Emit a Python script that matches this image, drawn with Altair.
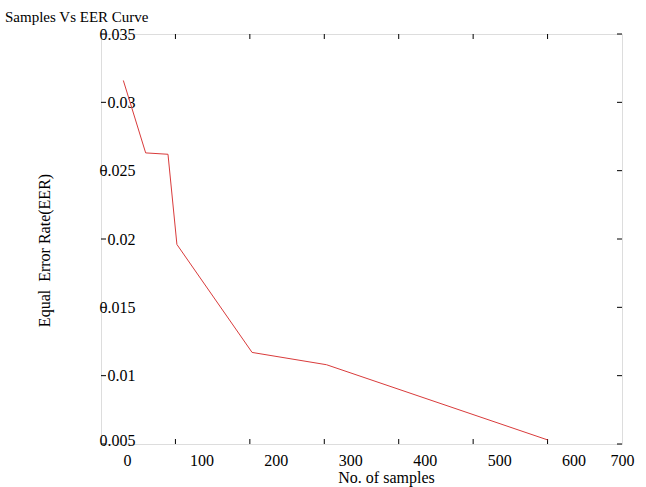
import altair as alt
import pandas as pd

samples = [30, 60, 90, 102, 203, 303, 600]
eer = [0.0316, 0.0263, 0.0262, 0.0196, 0.0117, 0.0108, 0.0053]

x_tick_values = [100, 200, 300, 400, 500, 600]
x_label_values = [0, 100, 200, 300, 400, 500, 600, 700]
y_tick_values = [0.005, 0.01, 0.015, 0.02, 0.025, 0.03, 0.035]

FONT = "Liberation Serif"
W, H = 521, 410

df = pd.DataFrame({"samples": samples, "eer": eer})
xt = pd.DataFrame({"v": x_tick_values})
yt = pd.DataFrame({"v": y_tick_values})

xscale = alt.Scale(domain=[0, 700], nice=False, zero=False)
yscale = alt.Scale(domain=[0.005, 0.035], nice=False, zero=False)

line = alt.Chart(df).mark_line(color="#d93b3b", strokeWidth=1).encode(
    x=alt.X("samples:Q", scale=xscale,
            axis=alt.Axis(values=x_label_values, title="No. of samples",
                          grid=False, domain=False, tickSize=0,
                          labelPadding=8, labelFont=FONT, labelFontSize=16,
                          labelColor="black", labelFlush=False,
                          labelOffset={"condition": {"test": "datum.value === 700", "value": 0}, "value": 26},
                          titleFont=FONT, titleFontSize=16, titleFontWeight="normal",
                          titleColor="black", titleX=285, titleY=33,
                          titleBaseline="middle", titleAlign="center")),
    y=alt.Y("eer:Q", scale=yscale,
            axis=alt.Axis(values=y_tick_values, format=".3~f", title="Equal\u00a0 Error Rate(EER)",
                          grid=False, domain=False, tickSize=0,
                          labelPadding=-34, labelAlign="right", labelBaseline="middle",
                          labelOffset={"condition": {"test": "datum.value < 0.006", "value": -4}, "value": 0},
                          labelFont=FONT, labelFontSize=16, labelColor="black",
                          labelFlush=False, labelOverlap=False,
                          titleFont=FONT, titleFontSize=16, titleFontWeight="normal",
                          titleColor="black", titleX=-57, titleY=216, titleAngle=-90,
                          titleAlign="center", titleBaseline="middle")),
)

left_ticks = alt.Chart(yt).mark_rule(color="black", strokeWidth=1).encode(
    y=alt.Y("v:Q", scale=yscale), x=alt.value(0), x2=alt.value(5))
right_ticks = alt.Chart(yt).mark_rule(color="black", strokeWidth=1).encode(
    y=alt.Y("v:Q", scale=yscale), x=alt.value(W - 5), x2=alt.value(W))
bottom_ticks = alt.Chart(xt).mark_rule(color="black", strokeWidth=1).encode(
    x=alt.X("v:Q", scale=xscale), y=alt.value(H - 5), y2=alt.value(H))
top_ticks = alt.Chart(xt).mark_rule(color="black", strokeWidth=1).encode(
    x=alt.X("v:Q", scale=xscale), y=alt.value(0), y2=alt.value(5))

chart = alt.layer(left_ticks, right_ticks, bottom_ticks, top_ticks, line).properties(
    width=W, height=H,
    title=alt.TitleParams("Samples Vs EER Curve", anchor="start", frame="group",
                          dx=-96, dy=15, offset=4, baseline="alphabetic",
                          font=FONT, fontSize=15, fontWeight="normal", color="black"),
    autosize=alt.AutoSizeParams(type="none"),
    padding={"left": 101, "top": 34, "right": 24, "bottom": 43},
).configure_view(stroke="black", strokeWidth=1).configure(background="white")

chart.save("out.html", embed_options={"renderer": "svg", "actions": False})
